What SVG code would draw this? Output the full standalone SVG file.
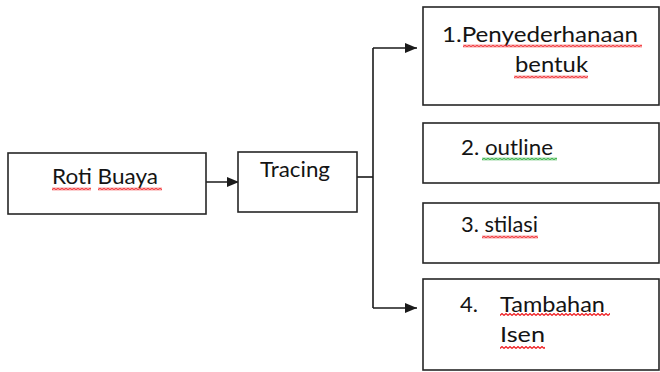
<svg xmlns="http://www.w3.org/2000/svg" width="660" height="372" viewBox="0 0 660 372">
  <style>
    .box { fill: #ffffff; stroke: #262626; stroke-width: 1.6; }
    .label { font-family: Lato, "Liberation Sans", Arial, sans-serif; font-size: 22px; fill: #141414; }
    .wire { fill: none; stroke: #1a1a1a; stroke-width: 1.6; }
  </style>
  <defs>
    <marker id="arrow" viewBox="0 0 12 10" refX="12" refY="5" markerWidth="12" markerHeight="10" markerUnits="userSpaceOnUse" orient="auto">
      <path d="M0 0 L12 5 L0 10 Z" fill="#1a1a1a"/>
    </marker>
    <!-- spell-check style wavy underlines -->
    <pattern id="wavyRed" width="4" height="3" patternUnits="userSpaceOnUse">
      <polyline points="0,2.4 2,0.6 4,2.4" fill="none" stroke="#f01e22" stroke-width="1.3"/>
    </pattern>
    <pattern id="wavyGreen" width="4" height="3" patternUnits="userSpaceOnUse">
      <polyline points="0,2.4 2,0.6 4,2.4" fill="none" stroke="#22a832" stroke-width="1.3"/>
    </pattern>
  </defs>

  <!-- connectors -->
  <g id="connectors">
    <line class="wire" x1="206" y1="182" x2="239" y2="182" marker-end="url(#arrow)"/>
    <polyline class="wire" points="357,177 373,177"/>
    <polyline class="wire" points="373,48 373,308"/>
    <line class="wire" x1="373" y1="48" x2="417" y2="48" marker-end="url(#arrow)"/>
    <line class="wire" x1="373" y1="308" x2="417" y2="308" marker-end="url(#arrow)"/>
  </g>

  <g id="roti-buaya">
    <rect class="box" x="8" y="153" width="198" height="61"/>
    <text class="label" x="52" y="184" textLength="106" lengthAdjust="spacingAndGlyphs">Roti Buaya</text>
    <g transform="translate(52,187.5)"><rect width="39" height="3" fill="url(#wavyRed)"/></g>
    <g transform="translate(98,187.5)"><rect width="64" height="3" fill="url(#wavyRed)"/></g>
  </g>

  <g id="tracing">
    <rect class="box" x="238" y="152" width="119" height="60"/>
    <text class="label" x="260" y="177" textLength="70" lengthAdjust="spacingAndGlyphs">Tracing</text>
  </g>

  <g id="step-1">
    <rect class="box" x="423" y="7" width="236" height="98"/>
    <text class="label" x="442" y="42" textLength="196" lengthAdjust="spacingAndGlyphs">1.Penyederhanaan</text>
    <text class="label" x="515" y="72" textLength="73" lengthAdjust="spacingAndGlyphs">bentuk</text>
    <g transform="translate(463,44.5)"><rect width="179" height="3" fill="url(#wavyRed)"/></g>
    <g transform="translate(514,75.5)"><rect width="74" height="3" fill="url(#wavyRed)"/></g>
  </g>

  <g id="step-2">
    <rect class="box" x="423" y="123" width="236" height="60"/>
    <text class="label" x="461" y="155" textLength="92" lengthAdjust="spacingAndGlyphs">2. outline</text>
    <g transform="translate(482,157.5)"><rect width="75" height="3" fill="url(#wavyGreen)"/></g>
  </g>

  <g id="step-3">
    <rect class="box" x="423" y="203" width="236" height="60"/>
    <text class="label" x="461" y="232" textLength="77" lengthAdjust="spacingAndGlyphs">3. stilasi</text>
    <g transform="translate(482,235.5)"><rect width="56" height="3" fill="url(#wavyRed)"/></g>
  </g>

  <g id="step-4">
    <rect class="box" x="423" y="279" width="236" height="91"/>
    <text class="label" x="460" y="312">4.</text>
    <text class="label" x="500" y="312" textLength="105" lengthAdjust="spacingAndGlyphs">Tambahan</text>
    <text class="label" x="500" y="342" textLength="45" lengthAdjust="spacingAndGlyphs">Isen</text>
    <g transform="translate(500,313)"><rect width="110" height="3" fill="url(#wavyRed)"/></g>
    <g transform="translate(500,346)"><rect width="45" height="3" fill="url(#wavyRed)"/></g>
  </g>
</svg>
